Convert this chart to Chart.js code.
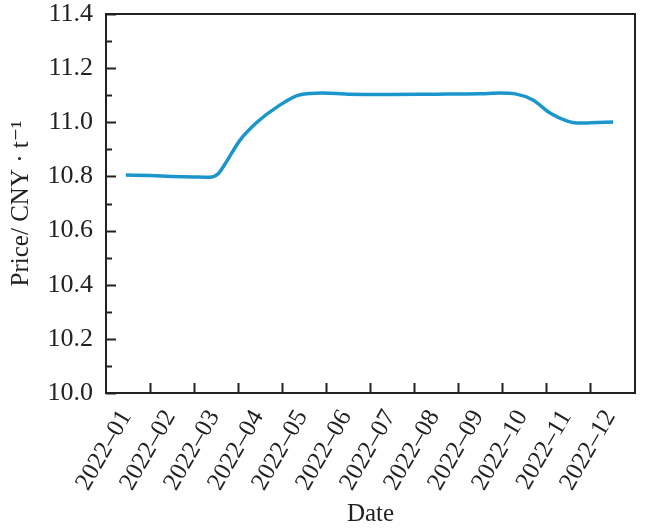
<!DOCTYPE html>
<html>
<head>
<meta charset="utf-8">
<script src="https://cdn.jsdelivr.net/npm/chart.js@4.4.0/dist/chart.umd.min.js"></script>
<style>
    html, body { margin: 0; padding: 0; background: #fff; }
    #wrap { width: 650px; height: 531px; }
</style>
</head>
<body>
<div id="wrap"><canvas id="priceChart" width="650" height="531"></canvas></div>
<script>
// Daten (x = Monate ab 2022-01)
const monthLabels = ['2022–01', '2022–02', '2022–03', '2022–04', '2022–05', '2022–06',
    '2022–07', '2022–08', '2022–09', '2022–10', '2022–11', '2022–12'];
const monthPos = [0.45, 1.0, 1.5, 2.0, 2.35, 2.55, 2.7, 3.05, 3.43, 3.89, 4.41, 4.93,
    5.5, 6.5, 7.5, 8.5, 8.95, 9.3, 9.7, 10.09, 10.48, 10.7, 11.0, 11.52];
const prices = [10.805, 10.803, 10.800, 10.798, 10.797, 10.81, 10.845, 10.935, 11.0, 11.057, 11.102, 11.108,
    11.104, 11.103, 11.104, 11.105, 11.108, 11.105, 11.082, 11.034, 11.004, 10.997, 10.998, 11.001];
const yTicks = [10.0, 10.2, 10.4, 10.6, 10.8, 11.0, 11.2, 11.4];

const serif = "'Liberation Serif', 'DejaVu Serif', serif";
const ink = '#222';

// Rahmen + Ticks nach innen
const frameTicks = {
    id: 'frameTicks',
    afterDraw(chart) {
        const { ctx, chartArea: { top, bottom, left, right }, scales: { x, y } } = chart;
        ctx.save();
        ctx.strokeStyle = ink;
        ctx.lineWidth = 2;
        ctx.strokeRect(left, top, right - left, bottom - top);
        ctx.beginPath();
        for (let i = 0; i <= 14; i++) {
            const py = Math.round(y.getPixelForValue(10 + i * 0.1)) + 0.5;
            ctx.moveTo(left, py);
            ctx.lineTo(left + (i % 2 === 0 ? 10 : 6), py);
        }
        for (let i = 1; i < monthLabels.length; i++) {
            const px = Math.round(x.getPixelForValue(i)) + 0.5;
            ctx.moveTo(px, bottom);
            ctx.lineTo(px, bottom - 10);
        }
        ctx.stroke();
        ctx.restore();
    }
};

const canvas = document.getElementById('priceChart');
new Chart(canvas, {
    type: 'scatter',
    data: {
        datasets: [{
            data: monthPos.map((m, i) => ({ x: m, y: prices[i] })),
            showLine: true,
            borderColor: '#1b96cd',
            borderWidth: 3.5,
            pointRadius: 0,
            cubicInterpolationMode: 'monotone'
        }]
    },
    options: {
        responsive: false,
        animation: false,
        layout: { padding: { top: 0, right: 15, left: 0, bottom: 0 } },
        plugins: {
            legend: { display: false },
            tooltip: { enabled: false }
        },
        scales: {
            x: {
                type: 'linear',
                min: 0,
                max: 12.02,
                afterBuildTicks(scale) {
                    scale.ticks = monthLabels.map((l, i) => ({ value: i }));
                },
                afterFit(scale) {
                    scale.height = 138;
                },
                grid: { display: false, drawTicks: false },
                border: { display: false },
                ticks: {
                    autoSkip: false,
                    maxRotation: 60,
                    minRotation: 60,
                    padding: 12,
                    labelOffset: 20,
                    color: ink,
                    font: { family: serif, size: 25 },
                    callback: (v) => monthLabels[v]
                },
                title: {
                    display: true,
                    text: 'Date',
                    color: ink,
                    padding: { top: 0, bottom: 2 },
                    font: { family: serif, size: 25 }
                }
            },
            y: {
                min: 10.0,
                max: 11.4,
                afterBuildTicks(scale) {
                    scale.ticks = yTicks.map(v => ({ value: v }));
                },
                afterFit(scale) {
                    scale.width = 106;
                    scale.paddingTop = 14;
                },
                grid: { display: false, drawTicks: false },
                border: { display: false },
                ticks: {
                    padding: 13,
                    color: ink,
                    font: { family: serif, size: 26 },
                    callback: (v) => v.toFixed(1)
                },
                title: {
                    display: true,
                    text: 'Price/ CNY · t⁻¹',
                    color: ink,
                    padding: { top: 6, bottom: 0 },
                    font: { family: serif, size: 25 }
                }
            }
        }
    },
    plugins: [frameTicks]
});
</script>
</body>
</html>
